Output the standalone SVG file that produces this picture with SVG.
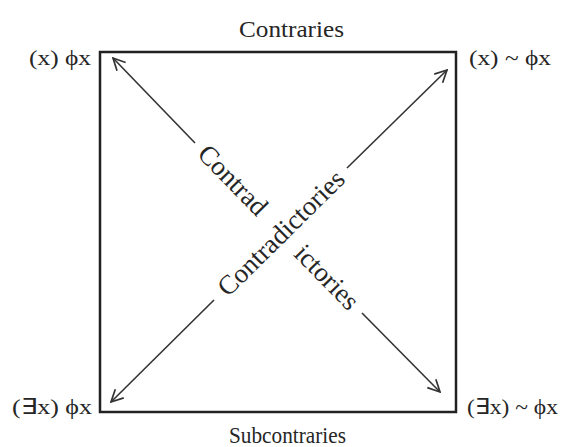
<svg xmlns="http://www.w3.org/2000/svg" width="561" height="447" viewBox="0 0 561 447">
<style>
.t{font-family:"Liberation Serif","Times New Roman",serif;fill:#262626;}
.lbl{font-size:22px;}
.ttl{font-size:23px;}
.rot{font-size:27px;text-anchor:middle;}
.box{fill:none;stroke:#222;stroke-width:2.5;}
.arr{stroke:#333;stroke-width:1.6;fill:none;}
</style>
<defs>
<marker id="ah" viewBox="0 0 14 14" refX="13" refY="7" markerWidth="14" markerHeight="14" markerUnits="userSpaceOnUse" orient="auto">
<path d="M1,1 L13,7 L1,13" fill="none" stroke="#333" stroke-width="1.7"/>
</marker>
</defs>
<rect width="561" height="447" fill="#fff"/>
<g id="square">
<rect class="box" x="100" y="52" width="356" height="360"/>
</g>
<g id="n-contraries"><text class="t ttl" x="239" y="37" textLength="105" lengthAdjust="spacingAndGlyphs">Contraries</text></g>
<g id="n-subcontraries"><text class="t ttl" x="229" y="443" textLength="117" lengthAdjust="spacingAndGlyphs">Subcontraries</text></g>
<g id="n-tl"><text class="t lbl" x="29" y="65" textLength="62" lengthAdjust="spacingAndGlyphs">(x) ϕx</text></g>
<g id="n-tr"><text class="t lbl" x="469" y="65" textLength="82" lengthAdjust="spacingAndGlyphs">(x) ~ ϕx</text></g>
<g id="n-bl"><text class="t lbl" x="12" y="414" textLength="80" lengthAdjust="spacingAndGlyphs">(∃x) ϕx</text></g>
<g id="n-br"><text class="t lbl" x="467" y="414" textLength="91" lengthAdjust="spacingAndGlyphs">(∃x) ~ ϕx</text></g>
<g id="connectors">
<line class="arr" x1="195" y1="143" x2="113" y2="58" marker-end="url(#ah)"/>
<line class="arr" x1="362" y1="313" x2="440" y2="392" marker-end="url(#ah)"/>
<line class="arr" x1="214" y1="300" x2="111" y2="402" marker-end="url(#ah)"/>
<line class="arr" x1="347" y1="168" x2="447" y2="70" marker-end="url(#ah)"/>
</g>
<g id="labels-diagonal">
<text class="t rot" transform="translate(233,180) rotate(45.6)" x="0" y="9">Contrad</text>
<text class="t rot" transform="translate(327,277) rotate(45.6)" x="0" y="9">ictories</text>
<text class="t rot" transform="translate(281,233) rotate(-44.6)" x="0" y="9">Contradictories</text>
</g>
</svg>
